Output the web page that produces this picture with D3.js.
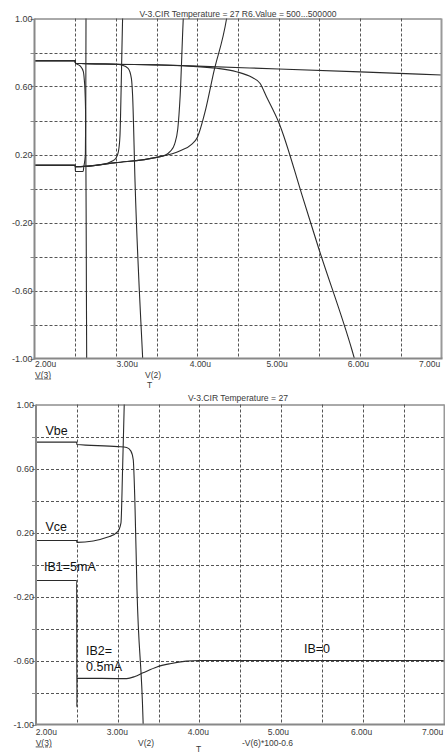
<!DOCTYPE html>
<html>
<head>
<meta charset="utf-8">
<script src="https://cdn.jsdelivr.net/npm/d3@7/dist/d3.min.js"></script>
<style>
  html, body { margin: 0; padding: 0; background: #fff; }
  svg { display: block; }
  text { font-family: "Liberation Sans", Arial, sans-serif; }
</style>
</head>
<body>
<svg id="chart" width="445" height="752"></svg>
<script>
// ---- axis ticks ----
const timeTicks = [2, 3, 4, 5, 6, 7];
const timeTickLabels = ["2.00u", "3.00u", "4.00u", "5.00u", "6.00u", "7.00u"];
const timeGrid = [2.5, 3, 3.5, 4, 4.5, 5, 5.5, 6, 6.5];
const voltTicks = [1, 0.6, 0.2, -0.2, -0.6, -1];
const voltTickLabels = ["1.00", "0.60", "0.20", "-0.20", "-0.60", "-1.00"];
const voltGrid = [0.8, 0.6, 0.4, 0.2, 0, -0.2, -0.4, -0.6, -0.8];
const voltMinor = [1, 0.8, 0.6, 0.4, 0.2, 0, -0.2, -0.4, -0.6, -0.8, -1];

// ---- upper plot: R6 stepped 500 ... 500000 ([time in us, volts]) ----
const vbeR500 = [[2.0,0.752],[2.5,0.752],[2.502,0.739],[2.56,0.721],[2.6,0.687],[2.612,0.638],[2.62,0.579],[2.629,0.403],[2.636,-0.36],[2.641,-1.0],[2.643,-1.06]];
const vbeR5k = [[2.0,0.752],[2.5,0.752],[2.502,0.737],[3.0,0.731],[3.07,0.726],[3.15,0.707],[3.19,0.648],[3.205,0.55],[3.235,0.04],[3.329,-1.0],[3.335,-1.06]];
const vbeR50k = [[2.0,0.752],[2.5,0.752],[2.502,0.737],[3.0,0.731],[3.5,0.727],[3.9,0.72],[4.24,0.707],[4.48,0.687],[4.67,0.654],[4.77,0.619],[4.85,0.54],[5.0,0.39],[5.3,-0.06],[5.49,-0.35],[5.9,-0.95],[5.96,-1.05]];
const vbeR500k = [[2.0,0.752],[2.5,0.752],[2.502,0.737],[3.0,0.731],[3.5,0.727],[4.0,0.72],[5.0,0.703],[6.0,0.686],[7.0,0.668]];
const vceR500 = [[2.0,0.136],[2.5,0.136],[2.502,0.1],[2.598,0.1],[2.605,0.125],[2.625,0.2],[2.63,0.5],[2.633,1.06]];
const vceR5k = [[2.0,0.136],[2.5,0.136],[2.502,0.128],[2.85,0.143],[2.95,0.16],[3.0,0.178],[3.03,0.215],[3.05,0.31],[3.065,0.6],[3.083,1.02],[3.086,1.06]];
const vceR50k = [[2.0,0.136],[2.5,0.136],[2.502,0.128],[3.0,0.152],[3.5,0.183],[3.6,0.195],[3.67,0.22],[3.72,0.26],[3.76,0.35],[3.79,0.55],[3.83,1.02],[3.835,1.06]];
const vceR500k = [[2.0,0.136],[2.5,0.136],[2.502,0.128],[3.0,0.152],[3.5,0.183],[3.79,0.222],[3.93,0.26],[4.0,0.3],[4.1,0.46],[4.2,0.68],[4.36,1.0],[4.38,1.06]];

// ---- lower plot: base current switched at 2.5us ----
const vbeTrace = [[2.0,0.765],[2.498,0.765],[2.5,0.75],[3.0,0.737],[3.11,0.731],[3.16,0.71],[3.19,0.656],[3.21,0.4],[3.236,-0.156],[3.31,-0.97],[3.315,-1.06]];
const vceTrace = [[2.0,0.15],[2.498,0.15],[2.5,0.138],[2.9,0.175],[3.0,0.205],[3.04,0.26],[3.06,0.6],[3.08,1.0],[3.085,1.1]];
const ibTrace = [[2.0,-0.1],[2.498,-0.1],[2.5,-0.89],[2.502,-0.71],[3.11,-0.713],[3.21,-0.70],[3.31,-0.677],[3.48,-0.64],[3.64,-0.62],[3.84,-0.604],[4.0,-0.6],[7.0,-0.6]];

const svg = d3.select("#chart");
svg.append("rect").attr("width", 445).attr("height", 752).attr("fill", "#fff");

const textColor = "#3a3a3a";

function drawPlot(cfg) {
  const x = d3.scaleLinear().domain([2, 7]).range(cfg.xRange);
  const y = d3.scaleLinear().domain([-1, 1]).range(cfg.yRange);
  const [x0, x1] = cfg.xRange;
  const [y1, y0] = cfg.yRange;
  const g = svg.append("g");

  const clipId = "clip-" + cfg.id;
  svg.append("clipPath").attr("id", clipId)
    .append("rect").attr("x", x0).attr("y", y0).attr("width", x1 - x0).attr("height", y1 - y0);

  // dashed grid
  g.selectAll(".vg").data(timeGrid).join("line")
    .attr("x1", d => Math.round(x(d)) + 0.5).attr("x2", d => Math.round(x(d)) + 0.5)
    .attr("y1", y0).attr("y2", y1)
    .attr("stroke", "#555").attr("stroke-width", 1).attr("stroke-dasharray", "3,2");
  g.selectAll(".hg").data(voltGrid).join("line")
    .attr("x1", x0).attr("x2", x1)
    .attr("y1", d => Math.round(y(d)) + 0.5).attr("y2", d => Math.round(y(d)) + 0.5)
    .attr("stroke", "#555").attr("stroke-width", 1).attr("stroke-dasharray", "3,2");

  // traces
  const line = d3.line().x(d => x(d[0])).y(d => y(d[1])).curve(d3.curveMonotoneX);
  g.append("g").attr("clip-path", `url(#${clipId})`)
    .selectAll("path").data(cfg.series).join("path")
    .attr("d", line).attr("fill", "none")
    .attr("stroke", "#2b2b2b").attr("stroke-width", 1.1);

  // frame
  g.append("line").attr("x1", x0).attr("x2", x1).attr("y1", y0 + 0.5).attr("y2", y0 + 0.5)
    .attr("stroke", "#555").attr("stroke-width", 1);
  g.append("line").attr("x1", x1).attr("x2", x1).attr("y1", y0).attr("y2", y1)
    .attr("stroke", "#999").attr("stroke-width", 2);
  g.append("line").attr("x1", x0).attr("x2", x0).attr("y1", y0).attr("y2", y1 + 1)
    .attr("stroke", "#888").attr("stroke-width", 2);
  g.append("line").attr("x1", x0 - 1).attr("x2", x1 + 1).attr("y1", y1).attr("y2", y1)
    .attr("stroke", "#888").attr("stroke-width", 2);

  // left axis minor ticks
  g.selectAll(".yt").data(voltMinor).join("line")
    .attr("x1", x0 - 4).attr("x2", x0)
    .attr("y1", d => Math.round(y(d)) + 0.5).attr("y2", d => Math.round(y(d)) + 0.5)
    .attr("stroke", "#888").attr("stroke-width", 1);

  // y tick labels
  g.selectAll(".yl").data(voltTicks).join("text")
    .attr("x", x0 - 2).attr("y", d => y(d) + 3.5)
    .attr("text-anchor", "end").attr("font-size", 9).attr("fill", textColor)
    .text((d, i) => voltTickLabels[i]);

  // x tick labels
  g.selectAll(".xl").data(timeTicks).join("text")
    .attr("x", (d, i) => x(d) + cfg.tickDx[i]).attr("y", cfg.tickBase)
    .attr("font-size", 8.5).attr("fill", textColor)
    .text((d, i) => timeTickLabels[i]);

  // title
  g.append("text").attr("x", 238).attr("y", cfg.titleY)
    .attr("text-anchor", "middle").attr("font-size", 8.6).attr("fill", textColor)
    .text(cfg.title);

  // trace names under the axis
  cfg.names.forEach(n => {
    const t = g.append("text").attr("x", n.x).attr("y", n.y)
      .attr("font-size", 8.5).attr("fill", textColor).text(n.text);
    if (n.underline) t.attr("text-decoration", "underline");
  });
  g.append("text").attr("x", cfg.tX).attr("y", cfg.tY)
    .attr("font-size", 8.5).attr("fill", textColor).text("T");

  return { x, y, g };
}

drawPlot({
  id: "upper",
  xRange: [34.5, 441.5],
  yRange: [358.5, 18.5],
  series: [vbeR500, vbeR5k, vbeR50k, vbeR500k, vceR500, vceR5k, vceR50k, vceR500k],
  tickDx: [0.5, 0.7, -7.5, -12.3, -12.3, -22.5],
  tickBase: 367,
  title: "V-3.CIR Temperature = 27 R6.Value = 500...500000",
  titleY: 16.5,
  names: [
    { text: "V(3)", x: 35, y: 377.5, underline: true },
    { text: "V(2)", x: 145, y: 377.5 }
  ],
  tX: 147, tY: 388
});

const lower = drawPlot({
  id: "lower",
  xRange: [36, 444.5],
  yRange: [724.5, 404.5],
  series: [vbeTrace, vceTrace, ibTrace],
  tickDx: [-0.3, -11, -11.7, -13.3, -11.8, -22.5],
  tickBase: 735,
  title: "V-3.CIR Temperature = 27",
  titleY: 401,
  names: [
    { text: "V(3)", x: 35.7, y: 745.5, underline: true },
    { text: "V(2)", x: 138, y: 745.5 },
    { text: "-V(6)*100-0.6", x: 242, y: 745.5 }
  ],
  tX: 196, tY: 751.5
});

// annotations on the lower plot
const notes = [
  { text: "Vbe", x: 45.5, y: 435 },
  { text: "Vce", x: 45.5, y: 531 },
  { text: "IB1=5mA", x: 44, y: 571 },
  { text: "IB2=", x: 86, y: 655 },
  { text: "0.5mA", x: 86, y: 671 },
  { text: "IB=0", x: 304, y: 653 }
];
lower.g.selectAll(".note").data(notes).join("text")
  .attr("x", d => d.x).attr("y", d => d.y)
  .attr("font-size", 12.5).attr("fill", "#111")
  .text(d => d.text);
</script>
</body>
</html>
